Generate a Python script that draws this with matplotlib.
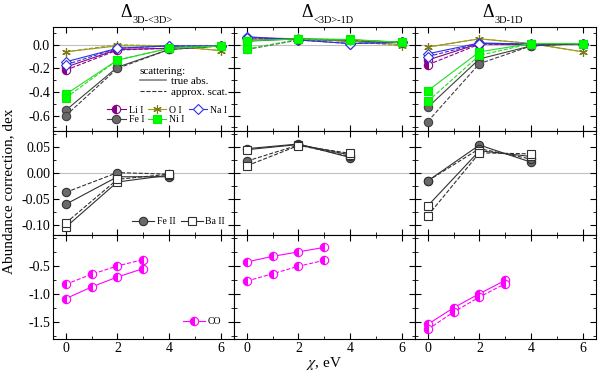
import matplotlib
matplotlib.use('Agg')
import matplotlib.pyplot as plt
from matplotlib.lines import Line2D
from matplotlib.ticker import MultipleLocator, FormatStrFormatter, FixedLocator

plt.rcParams['font.family'] = ['Liberation Serif', 'DejaVu Serif']
plt.rcParams['mathtext.fontset'] = 'stix'
plt.rcParams['axes.unicode_minus'] = False

# excitation potentials
chi = [0, 2, 4, 6]
chi_ii = [0, 2, 4]
chi_co = [0, 1, 2, 3]

species = ['Li I', 'O I', 'Na I', 'Fe I', 'Ni I']
ions = ['Fe II', 'Ba II']

# top row: neutral species, (true abs., approx. scat.)
d3d_mean_true = {
    'Li I': [-0.19, -0.04, -0.03, -0.01],
    'O I': [-0.06, -0.01, -0.01, -0.05],
    'Na I': [-0.145, -0.03, -0.01, -0.01],
    'Fe I': [-0.555, -0.19, -0.04, -0.01],
    'Ni I': [-0.42, -0.13, -0.03, -0.01],
}
d3d_mean_scat = {
    'Li I': [-0.215, -0.045, -0.03, -0.01],
    'O I': [-0.06, 0.0, -0.01, -0.05],
    'Na I': [-0.17, -0.03, -0.01, -0.01],
    'Fe I': [-0.60, -0.20, -0.04, -0.01],
    'Ni I': [-0.45, -0.13, -0.03, -0.01],
}
dmean_1d_true = {
    'Li I': [0.06, 0.05, 0.03, 0.02],
    'O I': [0.04, 0.05, 0.03, 0.0],
    'Na I': [0.068, 0.04, 0.01, 0.02],
    'Fe I': [0.03, 0.05, 0.04, 0.02],
    'Ni I': [0.033, 0.05, 0.045, 0.02],
}
dmean_1d_scat = {
    'Li I': [0.045, 0.05, 0.03, 0.02],
    'O I': [0.04, 0.05, 0.03, -0.01],
    'Na I': [0.06, 0.04, 0.01, 0.02],
    'Fe I': [-0.04, 0.04, 0.04, 0.02],
    'Ni I': [-0.035, 0.045, 0.04, 0.02],
}
d3d_1d_true = {
    'Li I': [-0.13, 0.01, 0.0, 0.01],
    'O I': [-0.02, 0.05, 0.01, -0.06],
    'Na I': [-0.077, 0.015, 0.005, 0.01],
    'Fe I': [-0.53, -0.12, -0.01, 0.01],
    'Ni I': [-0.39, -0.06, 0.01, 0.01],
}
d3d_1d_scat = {
    'Li I': [-0.17, 0.005, 0.0, 0.01],
    'O I': [-0.02, 0.05, 0.01, -0.06],
    'Na I': [-0.10, 0.01, 0.005, 0.01],
    'Fe I': [-0.65, -0.16, -0.01, 0.01],
    'Ni I': [-0.48, -0.09, 0.01, 0.01],
}

# middle row: ions
ion_true = [
    {'Fe II': [-0.061, -0.008, -0.008], 'Ba II': [-0.105, -0.018, -0.005]},
    {'Fe II': [0.046, 0.055, 0.029], 'Ba II': [0.044, 0.054, 0.034]},
    {'Fe II': [-0.016, 0.053, 0.020], 'Ba II': [-0.064, 0.042, 0.031]},
]
ion_scat = [
    {'Fe II': [-0.038, 0.0, -0.003], 'Ba II': [-0.097, -0.013, -0.003]},
    {'Fe II': [0.022, 0.053, 0.031], 'Ba II': [0.013, 0.052, 0.037]},
    {'Fe II': [-0.016, 0.046, 0.026], 'Ba II': [-0.083, 0.038, 0.036]},
]

# bottom row: CO
co_true = [
    [-1.083, -0.875, -0.696, -0.548],
    [-0.43, -0.33, -0.25, -0.17],
    [-1.54, -1.245, -0.994, -0.756],
]
co_scat = [
    [-0.827, -0.649, -0.50, -0.387],
    [-0.77, -0.64, -0.506, -0.40],
    [-1.63, -1.32, -1.054, -0.815],
]

title_subs = ['3D-<3D>', '<3D>-1D', '3D-1D']

# marker styles
style = {
    'Li I': dict(color='#8b008b', marker='o', fillstyle='left', mfc='#8b008b', mfcalt='white', mec='#8b008b'),
    'O I': dict(color='#9a9a1e', marker=(6, 2, 0), mec='#7a7a10'),
    'Na I': dict(color='#3030e0', marker='D', mfc='white', mec='#3030e0', ms=5),
    'Fe I': dict(color='#404040', marker='o', mfc='#6a6a6a', mec='#404040'),
    'Ni I': dict(color='#22dd22', marker='s', mfc='#00ff00', mec='#00ee00'),
    'Fe II': dict(color='#303030', marker='o', mfc='#6a6a6a', mec='#303030'),
    'Ba II': dict(color='#303030', marker='s', mfc='white', mec='#303030'),
    'CO': dict(color='#ff00ff', marker='o', fillstyle='left', mfc='#ff00ff', mfcalt='white', mec='#ff00ff'),
}


def kwargs_for(name, ls):
    kw = dict(ms=6, lw=0.8, mew=0.8, ls=ls)
    kw.update(style[name])
    return kw


fig, axes = plt.subplots(3, 3, figsize=(6, 3.75), dpi=100, sharex=True)
fig.subplots_adjust(left=0.088, right=0.993, top=0.928, bottom=0.096, wspace=0, hspace=0)

top_true = [d3d_mean_true, dmean_1d_true, d3d_1d_true]
top_scat = [d3d_mean_scat, dmean_1d_scat, d3d_1d_scat]

for j in range(3):
    ax = axes[0, j]
    ax.axhline(0, color='#c0c0c0', lw=0.8, zorder=0)
    for s in species:
        ax.plot(chi, top_true[j][s], **kwargs_for(s, '-'))
        ax.plot(chi, top_scat[j][s], **kwargs_for(s, '--'))
    # title: big Delta with small subscript
    ax.annotate('\u0394', xy=(0.5, 1.0), xycoords='axes fraction', xytext=(-8, 4),
                textcoords='offset points', ha='right', va='bottom', fontsize=13)
    ax.annotate(title_subs[j], xy=(0.5, 1.0), xycoords='axes fraction', xytext=(-8, 1.5),
                textcoords='offset points', ha='left', va='bottom', fontsize=7.5)

    ax = axes[1, j]
    ax.axhline(0, color='#c0c0c0', lw=0.8, zorder=0)
    for s in ions:
        ax.plot(chi_ii, ion_true[j][s], **kwargs_for(s, '-'))
        ax.plot(chi_ii, ion_scat[j][s], **kwargs_for(s, '--'))

    ax = axes[2, j]
    ax.plot(chi_co, co_true[j], **kwargs_for('CO', '-'))
    ax.plot(chi_co, co_scat[j], **kwargs_for('CO', '--'))

for ax in axes.flat:
    ax.set_xlim(-0.5, 6.5)
    ax.xaxis.set_major_locator(MultipleLocator(2))
    ax.xaxis.set_minor_locator(MultipleLocator(1))
    ax.tick_params(which='both', direction='in', top=True, right=True, labelsize=10, pad=2)
    ax.tick_params(which='major', length=4)
    ax.tick_params(which='minor', length=2)

for j in range(3):
    axes[0, j].set_ylim(-0.73, 0.15)
    axes[0, j].yaxis.set_major_locator(FixedLocator([-0.6, -0.4, -0.2, 0.0]))
    axes[0, j].yaxis.set_minor_locator(MultipleLocator(0.1))
    axes[1, j].set_ylim(-0.12, 0.08)
    axes[1, j].yaxis.set_major_locator(MultipleLocator(0.05))
    axes[1, j].yaxis.set_minor_locator(MultipleLocator(0.025))
    axes[2, j].set_ylim(-1.8, 0.05)
    axes[2, j].yaxis.set_major_locator(FixedLocator([-1.5, -1.0, -0.5]))
    axes[2, j].yaxis.set_minor_locator(MultipleLocator(0.25))
    if j > 0:
        for i in range(3):
            axes[i, j].tick_params(labelleft=False)

axes[0, 0].yaxis.set_major_formatter(FormatStrFormatter('%.1f'))
axes[1, 0].yaxis.set_major_formatter(FormatStrFormatter('%.2f'))
axes[2, 0].yaxis.set_major_formatter(FormatStrFormatter('%.1f'))

# legends
ax = axes[0, 0]
line_h = [Line2D([], [], color='#808080', lw=1.2, ls='-'),
          Line2D([], [], color='#303030', lw=0.8, ls='--')]
leg1 = ax.legend(line_h, ['true abs.', 'approx. scat.'], title='scattering:',
                 loc='upper right', bbox_to_anchor=(1.0, 0.68), frameon=False,
                 fontsize=8, title_fontsize=8, handlelength=2.4, handletextpad=0.4,
                 labelspacing=0.05, borderpad=0.1)
leg1._legend_box.align = 'left'
ax.add_artist(leg1)
# order so that rows read Li I, O I, Na I / Fe I, Ni I
leg_order = ['Li I', 'Fe I', 'O I', 'Ni I', 'Na I']
sp_h = [Line2D([], [], **kwargs_for(s, '-')) for s in leg_order]
ax.legend(sp_h, leg_order, ncol=3, loc='lower right', bbox_to_anchor=(1.0, 0.0),
          frameon=False, fontsize=7, handlelength=1.9, handletextpad=0.3,
          columnspacing=0.4, labelspacing=0.05, borderpad=0.2)

ion_h = [Line2D([], [], **kwargs_for(s, '-')) for s in ions]
axes[1, 0].legend(ion_h, ions, ncol=2, loc='lower right', frameon=False, fontsize=7,
                  handlelength=2.2, handletextpad=0.3, columnspacing=0.6, borderpad=0.4)
co_h = [Line2D([], [], **kwargs_for('CO', '-'))]
axes[2, 0].legend(co_h, ['CO'], loc='lower right', frameon=False, fontsize=7,
                  handlelength=2.2, handletextpad=0.3, borderpad=0.8)

axes[2, 1].set_xlabel(r'$\chi$, eV', fontsize=11, labelpad=0)
fig.text(0.014, 0.49, 'Abundance correction, dex', rotation=90, ha='center', va='center',
         fontsize=11)

fig.savefig('out.png', dpi=100)
